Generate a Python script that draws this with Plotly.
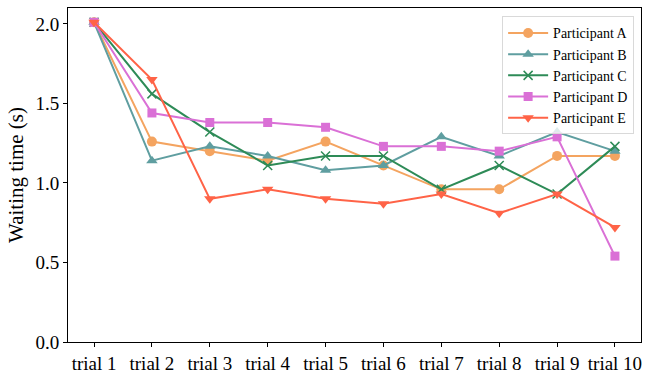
import plotly.graph_objects as go

trials = ["trial 1", "trial 2", "trial 3", "trial 4", "trial 5", "trial 6", "trial 7", "trial 8", "trial 9", "trial 10"]
part_a = [2.01, 1.26, 1.20, 1.14, 1.26, 1.11, 0.96, 0.96, 1.17, 1.17]
part_b = [2.01, 1.14, 1.23, 1.17, 1.08, 1.11, 1.29, 1.17, 1.32, 1.20]
part_c = [2.01, 1.56, 1.32, 1.11, 1.17, 1.17, 0.96, 1.11, 0.93, 1.23]
part_d = [2.01, 1.44, 1.38, 1.38, 1.35, 1.23, 1.23, 1.20, 1.29, 0.54]
part_e = [2.01, 1.65, 0.90, 0.96, 0.90, 0.87, 0.93, 0.81, 0.93, 0.72]

series = [
    ("Participant A", part_a, "#F4A460", "circle", 10),
    ("Participant B", part_b, "#5F9EA0", "triangle-up", 10),
    ("Participant C", part_c, "#2E8B57", "x-thin", 9),
    ("Participant D", part_d, "#DA70D6", "square", 9),
    ("Participant E", part_e, "#FF6347", "triangle-down", 10),
]

x_idx = list(range(len(trials)))
fig = go.Figure()
for name, vals, col, sym, sz in series:
    marker = dict(symbol=sym, size=sz, color=col)
    if sym == "x-thin":
        marker["line"] = dict(color=col, width=1.5)
    fig.add_trace(go.Scatter(x=x_idx, y=vals, mode="lines+markers", name=name,
                             line=dict(color=col, width=2), marker=marker))

font = "'Times New Roman', 'Liberation Serif', Times, serif"
fig.update_layout(
    width=649, height=381,
    margin=dict(l=68, r=7, t=7, b=23),
    plot_bgcolor="white", paper_bgcolor="white",
    font=dict(family=font, size=19, color="black"),
    showlegend=True,
    legend=dict(x=0.988, y=0.975, xanchor="right", yanchor="top",
                bordercolor="#d9d9d9", borderwidth=1, bgcolor="rgba(255,255,255,0.8)",
                font=dict(family=font, size=14), tracegroupgap=0, itemwidth=40),
)
fig.update_xaxes(range=[-0.45, 9.45], tickmode="array", tickvals=x_idx, ticktext=trials,
                 showgrid=False, zeroline=False, showline=True, linecolor="black", linewidth=1,
                 mirror=True, ticks="outside", ticklen=4, tickcolor="black",
                 tickfont=dict(family=font, size=19))
fig.update_yaxes(range=[0, 2.1], tickvals=[0, 0.5, 1.0, 1.5, 2.0],
                 ticktext=["0.0", "0.5", "1.0", "1.5", "2.0"],
                 showgrid=False, zeroline=False, showline=True, linecolor="black", linewidth=1,
                 mirror=True, ticks="outside", ticklen=4, tickcolor="black",
                 tickfont=dict(family=font, size=19),
                 title=dict(text="Waiting time (s)", font=dict(family=font, size=21), standoff=6))

fig.write_html("out.html")
